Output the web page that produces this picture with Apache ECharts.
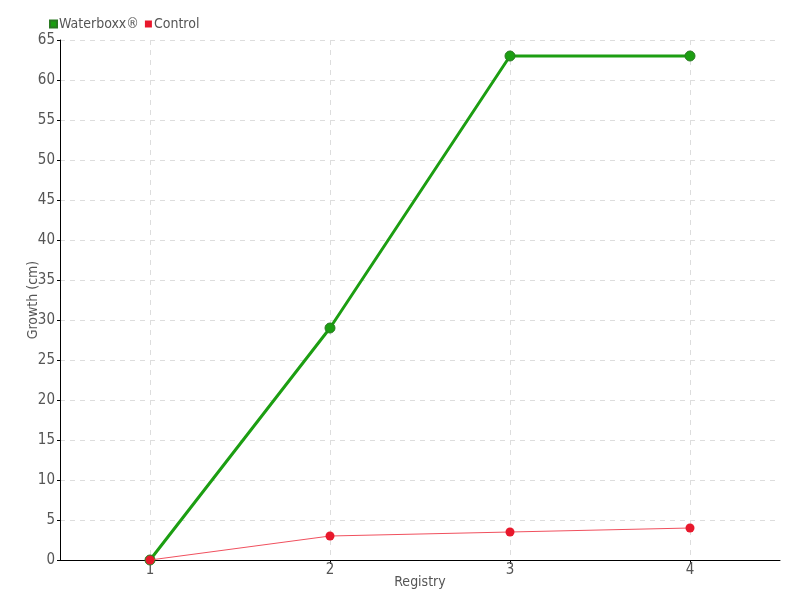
<!DOCTYPE html>
<html>
<head>
<meta charset="utf-8">
<script src="https://cdn.jsdelivr.net/npm/echarts@6/dist/echarts.min.js"></script>
<style>
  html, body { margin: 0; padding: 0; background: #fff; overflow: hidden; }
  #chart { width: 800px; height: 600px; }
</style>
</head>
<body>
<div id="chart"></div>
<script>
// 图表数据
const categories = ["1", "2", "3", "4"];
const waterboxx = [0, 29, 63, 63];
const control = [0, 3, 3.5, 4];

const textColor = "#555";
const gridColor = "#ddd";
const fontFamily = "'DejaVu Sans Condensed', 'Liberation Sans Narrow', sans-serif";

const myChart = echarts.init(document.getElementById("chart"));

const option = {
  animation: false,
  textStyle: { fontFamily: fontFamily },
  legend: {
    left: 44,
    top: 12,
    itemWidth: 7,
    itemHeight: 7,
    itemGap: 6,
    icon: "rect",
    textStyle: { color: textColor, fontSize: 14, fontFamily: fontFamily, padding: [0, 0, 0, -3] },
    data: ["Waterboxx®", "Control"],
  },
  grid: { left: 60, right: 20, top: 40, bottom: 40, containLabel: false },
  xAxis: {
    type: "category",
    data: categories,
    boundaryGap: true,
    name: "Registry",
    nameLocation: "middle",
    nameGap: 15,
    nameMoveOverlap: false,
    nameTextStyle: { color: textColor, fontSize: 14, fontFamily: fontFamily },
    axisLine: { show: true, lineStyle: { color: "#000", width: 1 } },
    axisTick: { show: true, alignWithLabel: true, length: 4, lineStyle: { color: "#000" } },
    axisLabel: { color: textColor, fontSize: 15, margin: 3, fontFamily: fontFamily },
    splitLine: {
      show: true,
      alignWithLabel: true,
      lineStyle: { color: gridColor, type: [5, 5], width: 1 },
    },
  },
  yAxis: {
    type: "value",
    min: 0,
    max: 65,
    interval: 5,
    name: "Growth (cm)",
    nameLocation: "middle",
    nameGap: 20,
    nameMoveOverlap: false,
    nameRotate: 90,
    nameTextStyle: { color: textColor, fontSize: 14, fontFamily: fontFamily },
    axisLine: { show: true, lineStyle: { color: "#000", width: 1 } },
    axisTick: { show: true, length: 3, lineStyle: { color: "#000" } },
    axisLabel: { color: textColor, fontSize: 15, margin: 5, padding: [2, 0, 0, 0], fontFamily: fontFamily },
    splitLine: { show: true, lineStyle: { color: gridColor, type: [5, 5], width: 1 } },
  },
  series: [
    {
      name: "Waterboxx®",
      type: "line",
      data: waterboxx,
      symbol: "circle",
      symbolSize: 10,
      itemStyle: { color: "#1c9e12", borderColor: "#2a7a22", borderWidth: 1 },
      lineStyle: { color: "#1c9e12", width: 3 },
      z: 2,
    },
    {
      name: "Control",
      type: "line",
      data: control,
      symbol: "circle",
      symbolSize: 9,
      itemStyle: { color: "#e8182c", borderColor: "#e8182c", borderWidth: 0 },
      lineStyle: { color: "#f0505e", width: 1 },
      z: 3,
    },
  ],
};

myChart.setOption(option);
</script>
</body>
</html>
